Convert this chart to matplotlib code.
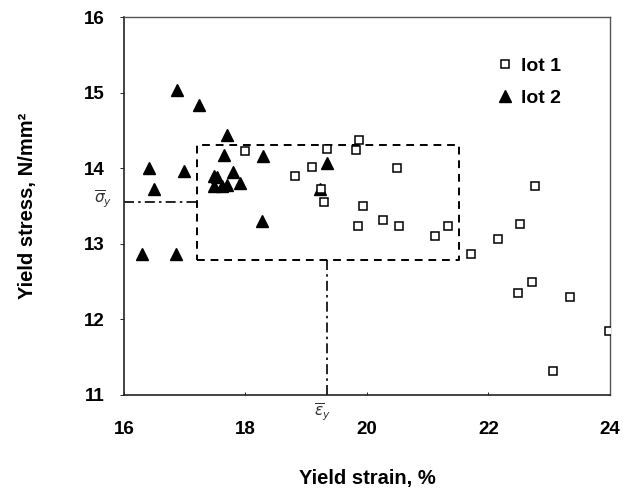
import matplotlib.pyplot as plt

plt.rcParams['font.family'] = ['Liberation Sans', 'DejaVu Sans']

# lot 1 (open squares)
lot1_strain = [18.00, 18.81, 19.10, 19.35, 19.30, 19.25, 19.82, 19.87, 19.86, 20.49,
               19.93, 20.27, 20.53, 21.12, 21.33, 21.72, 22.16, 22.52, 22.77, 22.72,
               22.48, 23.35, 23.98, 23.06]
lot1_stress = [14.23, 13.90, 14.02, 14.26, 13.55, 13.73, 14.24, 14.38, 13.23, 14.00,
               13.50, 13.31, 13.24, 13.10, 13.24, 12.87, 13.06, 13.26, 13.76, 12.49,
               12.35, 12.30, 11.84, 11.32]

# lot 2 (filled triangles)
lot2_strain = [16.41, 16.50, 16.87, 17.23, 16.98, 17.69, 17.65, 17.49, 17.53, 17.49,
               17.62, 17.70, 17.80, 17.91, 18.28, 18.29, 19.34, 19.23, 16.30, 16.85]
lot2_stress = [14.00, 13.73, 15.04, 14.84, 13.97, 14.44, 14.18, 13.90, 13.89, 13.76,
               13.76, 13.78, 13.95, 13.80, 13.30, 14.16, 14.07, 13.73, 12.87, 12.87]

# mean values and box limits
mean_strain = 19.35
mean_stress = 13.55
box_x = [17.21, 21.51]
box_y = [12.79, 14.31]

x_ticks = [16, 18, 20, 22, 24]
y_ticks = [11, 12, 13, 14, 15, 16]

fig = plt.figure(figsize=(6.23, 4.9), dpi=100)
ax = fig.add_axes([0.199, 0.194, 0.78, 0.771])

ax.plot(lot1_strain, lot1_stress, 's', ms=5.5, mfc='white', mec='black', mew=1.1,
        ls='none', label='lot 1', zorder=3)
ax.plot(lot2_strain, lot2_stress, '^', ms=8, color='black',
        ls='none', label='lot 2', zorder=2)

# dashed box
ax.plot([box_x[0], box_x[1], box_x[1], box_x[0], box_x[0]],
        [box_y[0], box_y[0], box_y[1], box_y[1], box_y[0]],
        color='black', ls=(0, (4, 3)), lw=1.4, zorder=1)

# mean lines
ax.plot([16, box_x[0]], [mean_stress, mean_stress], color='black',
        ls=(0, (6, 2.5, 1.5, 2.5)), lw=1.2, zorder=1)
ax.plot([mean_strain, mean_strain], [11, box_y[0]], color='black',
        ls=(0, (6, 2.5, 1.5, 2.5)), lw=1.2, zorder=1)

ax.set_xlim(16, 24)
ax.set_ylim(11, 16)
ax.set_xticks(x_ticks)
ax.set_yticks(y_ticks)
ax.tick_params(axis='x', direction='in', length=2, pad=19, labelsize=13.5, width=0.6)
ax.tick_params(axis='y', direction='out', length=3, pad=11, labelsize=13.5, width=0.6)
for lab in ax.get_xticklabels() + ax.get_yticklabels():
    lab.set_fontweight('bold')

for s in ['left', 'bottom']:
    ax.spines[s].set_color('#222222')
    ax.spines[s].set_linewidth(1.2)
for s in ['top', 'right']:
    ax.spines[s].set_color('#555555')
    ax.spines[s].set_linewidth(1.0)

# symbol labels
ax.text(-0.043, (mean_stress - 11) / 5 + 0.008, r'$\overline{\sigma}_y$',
        transform=ax.transAxes, ha='center', va='center', fontsize=11,
        color='#333333', family='DejaVu Serif')
ax.text((mean_strain - 16) / 8 - 0.01, -0.045, r'$\overline{\varepsilon}_y$',
        transform=ax.transAxes, ha='center', va='center', fontsize=11,
        color='#333333', family='DejaVu Serif')

ax.set_ylabel('Yield stress, N/mm²', fontsize=14.5, fontweight='bold',
              labelpad=34)
ax.set_xlabel('Yield strain, %', fontsize=14.5, fontweight='bold', labelpad=22)

leg = ax.legend(loc='upper right', bbox_to_anchor=(0.935, 0.94), frameon=False,
                handlelength=0.6, handletextpad=0.5,
                labelspacing=0.75, prop={'weight': 'bold', 'size': 14})

fig.savefig('out.png', dpi=100)
